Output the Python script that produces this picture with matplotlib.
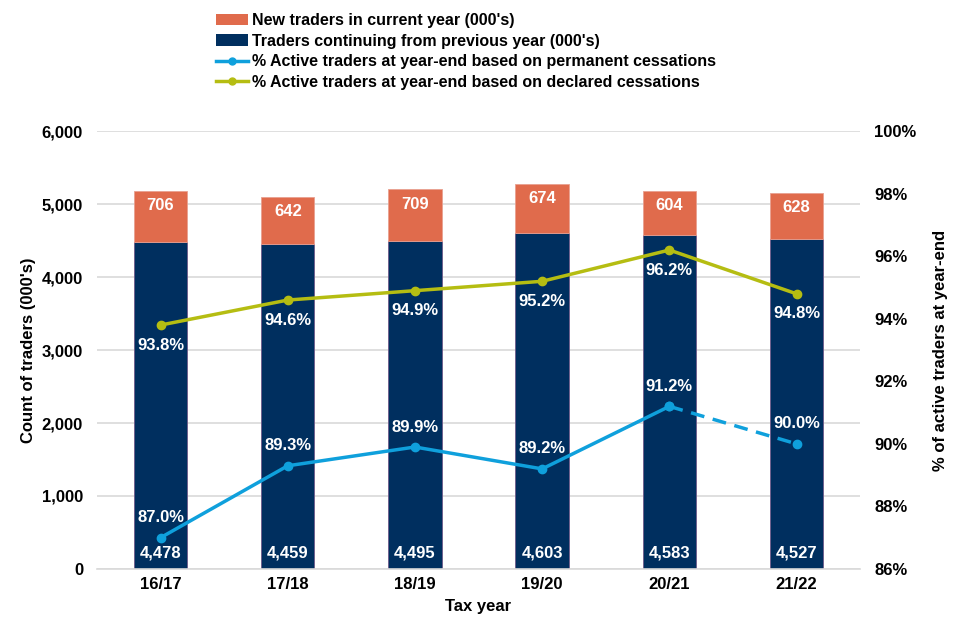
import matplotlib
matplotlib.use("Agg")
import matplotlib.pyplot as plt
from matplotlib.ticker import FuncFormatter, MultipleLocator
from matplotlib.lines import Line2D
from matplotlib.patches import Patch

plt.rcParams['font.family'] = ['Liberation Sans', 'DejaVu Sans']
plt.rcParams['font.weight'] = 'bold'

years = ["16/17", "17/18", "18/19", "19/20", "20/21", "21/22"]
continuing = [4478, 4459, 4495, 4603, 4583, 4527]
new = [706, 642, 709, 674, 604, 628]
pct_permanent = [87.0, 89.3, 89.9, 89.2, 91.2, 90.0]
pct_declared = [93.8, 94.6, 94.9, 95.2, 96.2, 94.8]

navy = "#002f5f"
orange = "#e06b4c"
blue = "#0fa0dc"
olive = "#b5bd12"

fig = plt.figure(figsize=(9.6, 6.4), dpi=100)
ax = fig.add_axes([0.101, 0.111, 0.795, 0.684])
ax2 = ax.twinx()

x = list(range(len(years)))
w = 0.42
ax.bar(x, continuing, w, color=navy, edgecolor="#6e5a8a", linewidth=0.6, zorder=2)
ax.bar(x, new, w, bottom=continuing, color=orange, edgecolor="#e8a090", linewidth=0.6, zorder=2)

for i in x:
    ax.text(i, 120, f"{continuing[i]:,}", ha="center", va="bottom", color="white",
            fontsize=12, fontweight="bold", zorder=5)
    ax.text(i, continuing[i] + new[i] - 100, f"{new[i]}", ha="center", va="top", color="white",
            fontsize=12, fontweight="bold", zorder=5)

ax.set_xlim(-0.5, len(years) - 0.5)
ax.set_ylim(0, 6000)
ax.yaxis.set_major_locator(MultipleLocator(1000))
ax.yaxis.set_major_formatter(FuncFormatter(lambda v, p: f"{int(v):,}"))
ax.grid(axis="y", color="#d9d9d9", linewidth=1.2, zorder=0)
ax.set_axisbelow(True)
ax.set_xticks(x)
ax.set_xticklabels(years)
for a in (ax, ax2):
    for s in a.spines.values():
        s.set_visible(False)
    a.tick_params(length=0, labelsize=12)
ax.spines['bottom'].set_visible(True)
ax.spines['bottom'].set_color("#d9d9d9")
ax.spines['bottom'].set_linewidth(1.2)
ax.tick_params(axis="x", pad=6)
ax.tick_params(axis="y", pad=10)
ax.set_xlabel("Tax year", fontsize=12, fontweight="bold", labelpad=5)
ax.set_ylabel("Count of traders (000's)", fontsize=12, fontweight="bold", labelpad=4)

ax2.set_ylim(86, 100)
ax2.yaxis.set_major_locator(MultipleLocator(2))
ax2.yaxis.set_major_formatter(FuncFormatter(lambda v, p: f"{int(v)}%"))
ax2.tick_params(axis="y", pad=10)
ax2.set_ylabel("% of active traders at year-end", fontsize=12, fontweight="bold", labelpad=12)

ax2.plot(x[:5], pct_permanent[:5], color=blue, lw=2.5, marker="o", ms=6, zorder=4)
ax2.plot(x[4:], pct_permanent[4:], color=blue, lw=2.5, ls=(0, (4, 2.5)), marker="o", ms=6, zorder=4)
ax2.plot(x, pct_declared, color=olive, lw=2.5, marker="o", ms=6, zorder=4)

for i in x:
    ax2.annotate(f"{pct_permanent[i]:.1f}%", (i, pct_permanent[i]), xytext=(0, 9),
                 textcoords="offset points", ha="center", va="bottom", color="white",
                 fontsize=12, fontweight="bold", zorder=6)
    ax2.annotate(f"{pct_declared[i]:.1f}%", (i, pct_declared[i]), xytext=(0, -9),
                 textcoords="offset points", ha="center", va="top", color="white",
                 fontsize=12, fontweight="bold", zorder=6)

handles = [
    Patch(facecolor=orange, label="New traders in current year (000's)"),
    Patch(facecolor=navy, label="Traders continuing from previous year (000's)"),
    Line2D([], [], color=blue, lw=2.5, marker="o", ms=5, label="% Active traders at year-end based on permanent cessations"),
    Line2D([], [], color=olive, lw=2.5, marker="o", ms=5, label="% Active traders at year-end based on declared cessations"),
]
fig.legend(handles=handles, loc="upper left", bbox_to_anchor=(0.218, 0.99), frameon=False,
           handlelength=2.0, handletextpad=0.3, labelspacing=0.36,
           borderaxespad=0, prop={'weight': 'bold', 'size': 11.5})

fig.savefig("out.png", dpi=100)
